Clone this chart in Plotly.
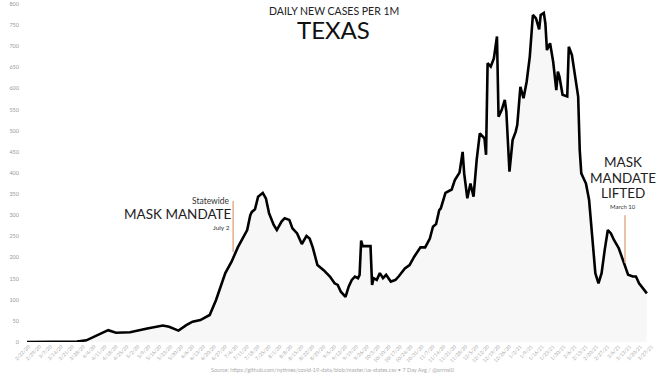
import plotly.graph_objects as go

# 7-day average of daily new cases per 1M
dates = [
    "2020-02-21", "2020-03-19", "2020-03-24", "2020-03-30", "2020-04-08", "2020-04-13",
    "2020-04-18", "2020-04-27", "2020-05-08", "2020-05-18", "2020-05-22", "2020-05-28",
    "2020-06-02", "2020-06-06", "2020-06-11", "2020-06-17", "2020-06-21", "2020-06-27",
    "2020-07-01", "2020-07-05", "2020-07-11", "2020-07-13", "2020-07-14", "2020-07-16",
    "2020-07-18", "2020-07-21", "2020-07-23", "2020-07-25", "2020-07-28", "2020-07-30",
    "2020-08-02", "2020-08-04", "2020-08-07", "2020-08-09", "2020-08-12", "2020-08-15",
    "2020-08-18", "2020-08-20", "2020-08-22", "2020-08-25", "2020-08-29", "2020-09-02",
    "2020-09-05", "2020-09-07", "2020-09-09", "2020-09-12", "2020-09-14", "2020-09-16",
    "2020-09-18", "2020-09-20", "2020-09-21", "2020-09-22", "2020-09-23", "2020-09-28",
    "2020-09-29", "2020-09-30", "2020-10-02", "2020-10-04", "2020-10-06", "2020-10-08",
    "2020-10-11", "2020-10-14", "2020-10-16", "2020-10-20", "2020-10-23", "2020-10-26",
    "2020-10-30", "2020-11-02", "2020-11-05", "2020-11-07", "2020-11-09", "2020-11-11",
    "2020-11-12", "2020-11-15", "2020-11-19", "2020-11-21", "2020-11-24", "2020-11-26",
    "2020-11-27", "2020-11-29", "2020-12-01", "2020-12-03", "2020-12-05", "2020-12-07",
    "2020-12-10", "2020-12-11", "2020-12-12", "2020-12-14", "2020-12-16", "2020-12-18",
    "2020-12-19", "2020-12-21", "2020-12-23", "2020-12-24", "2020-12-26", "2020-12-28",
    "2020-12-30", "2020-12-31", "2021-01-02", "2021-01-04", "2021-01-06", "2021-01-08",
    "2021-01-10", "2021-01-12", "2021-01-14", "2021-01-15", "2021-01-17", "2021-01-18",
    "2021-01-19", "2021-01-21", "2021-01-23", "2021-01-25", "2021-01-26", "2021-01-27",
    "2021-01-29", "2021-02-01", "2021-02-02", "2021-02-04", "2021-02-08", "2021-02-09",
    "2021-02-10", "2021-02-13", "2021-02-15", "2021-02-17", "2021-02-19", "2021-02-21",
    "2021-02-23", "2021-02-25", "2021-02-27", "2021-03-01", "2021-03-03", "2021-03-06",
    "2021-03-08", "2021-03-10", "2021-03-12", "2021-03-15", "2021-03-17", "2021-03-19",
    "2021-03-21", "2021-03-24",
]
cases_per_1m = [
    0, 0, 1, 4, 20, 28,
    22, 23, 32, 39, 36, 27,
    40, 48, 52, 64, 99, 163,
    190, 224, 265, 300, 308, 314,
    344, 353, 340, 305, 277, 265,
    285, 293, 289, 269, 257, 232,
    251, 245, 224, 182, 170, 155,
    139, 135, 119, 107, 131, 147,
    155, 151, 159, 240, 227, 227,
    135, 151, 147, 163, 151, 159,
    143, 147, 155, 174, 182, 202,
    224, 224, 245, 273, 279, 312,
    316, 353, 361, 383, 401, 450,
    399, 340, 375, 344, 431, 494,
    482, 443, 660, 652, 671, 723,
    533, 549, 573, 545, 403, 478,
    498, 514, 604, 577, 616, 675,
    774, 766, 740, 774, 779, 754,
    691, 707, 663, 596, 640, 628,
    585, 581, 699, 679, 581, 454,
    399, 375, 336, 257, 163, 139,
    163, 218, 265, 257, 241, 222,
    202, 182, 159, 155, 155, 139,
    129, 115,
]

# annotation events
event_dates = ["2020-07-02", "2021-03-10"]
event_arrow_top = [334, 300]
event_arrow_bottom = [213, 187]

FONT = "Lato"

fig = go.Figure()

# faint fill under the curve (stands in for the light daily bars)
fig.add_trace(go.Scatter(
    x=dates, y=cases_per_1m, mode="lines",
    line=dict(color="rgba(0,0,0,0)", width=0),
    fill="tozeroy", fillcolor="rgba(0,0,0,0.03)",
    hoverinfo="skip", showlegend=False,
))

fig.add_trace(go.Scatter(
    x=dates, y=cases_per_1m, mode="lines",
    line=dict(color="black", width=2.6),
    showlegend=False,
))

# orange event markers
for d, top, bot in zip(event_dates, event_arrow_top, event_arrow_bottom):
    fig.add_trace(go.Scatter(
        x=[d, d], y=[top, bot], mode="lines",
        line=dict(color="#e0a07a", width=1.3),
        hoverinfo="skip", showlegend=False,
    ))

# July 2 annotation texts
fig.add_annotation(x=event_dates[0], y=334, text="Statewide", showarrow=False,
                   xanchor="right", yanchor="middle", xshift=-1,
                   font=dict(family=FONT, size=8.5, color="#333"))
fig.add_annotation(x=event_dates[0], y=302, text="MASK MANDATE", showarrow=False,
                   xanchor="right", yanchor="middle", xshift=1,
                   font=dict(family=FONT, size=13.5, color="#222"))
fig.add_annotation(x=event_dates[0], y=272, text="July 2", showarrow=False,
                   xanchor="right", yanchor="middle", xshift=-1,
                   font=dict(family=FONT, size=6.5, color="#333"))

# March 10 annotation texts
lifted_x = "2021-03-08 16:00"
for txt, yv in [("MASK", 426), ("MANDATE", 388), ("LIFTED", 353)]:
    fig.add_annotation(x=lifted_x, y=yv, text=txt, showarrow=False,
                       xanchor="center", yanchor="middle",
                       font=dict(family=FONT, size=13.5, color="#222"))
fig.add_annotation(x=lifted_x, y=320, text="March 10", showarrow=False,
                   xanchor="center", yanchor="middle",
                   font=dict(family=FONT, size=6, color="#333"))

# titles
fig.add_annotation(xref="paper", yref="paper", x=0.494, y=1.0, yanchor="top",
                   yshift=1, text="DAILY NEW CASES PER 1M", showarrow=False,
                   xanchor="center", font=dict(family=FONT, size=10.5, color="#222"))
fig.add_annotation(xref="paper", yref="paper", x=0.494, y=1.0, yanchor="top",
                   yshift=-9, text="TEXAS", showarrow=False,
                   xanchor="center", font=dict(family=FONT, size=24, color="#111"))

# source
fig.add_annotation(xref="paper", yref="paper", x=0.493, y=0, yanchor="top",
                   yshift=-23,
                   text="Source: https://github.com/nytimes/covid-19-data/blob/master/us-states.csv • 7 Day Avg / @orrnsl0",
                   showarrow=False, xanchor="center",
                   font=dict(family=FONT, size=5.5, color="#aaa"))

fig.update_layout(
    width=668, height=376,
    margin=dict(l=20, r=13, t=4, b=34),
    paper_bgcolor="white", plot_bgcolor="white",
    font=dict(family=FONT),
)
fig.update_xaxes(
    range=["2020-02-16 12:00", "2021-03-29 05:00"], automargin=False,
    type="date", showgrid=False, zeroline=False, showline=False,
    tick0="2020-02-22", dtick=7 * 24 * 3600 * 1000,
    tickformat="%-m/%-d/%y", tickangle=-45,
    tickfont=dict(size=5, color="#aaa"), ticks="",
)
fig.update_yaxes(
    range=[0, 800], dtick=50, showgrid=False, zeroline=False, showline=False,
    automargin=False,
    tickfont=dict(size=5.5, color="#999"), ticks="",
)

fig.write_html("out.html", config={"displayModeBar": False},
               post_script="document.body.style.margin='0';document.body.style.overflow='hidden';")
